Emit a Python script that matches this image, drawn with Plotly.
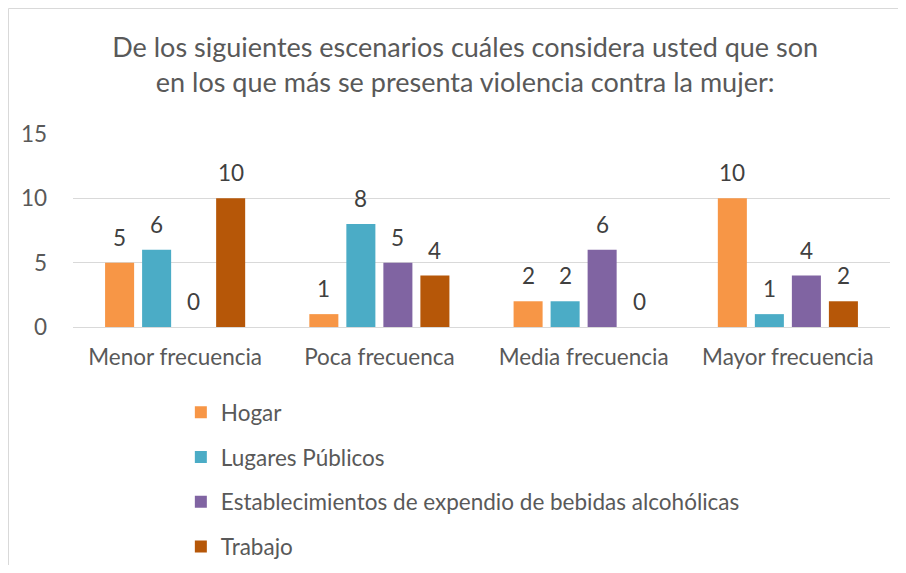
import plotly.graph_objects as go

categories = ["Menor frecuencia", "Poca frecuenca", "Media frecuencia", "Mayor frecuencia"]
series_names = ["Hogar", "Lugares Públicos",
                "Establecimientos de expendio de bebidas alcohólicas", "Trabajo"]
hogar = [5, 1, 2, 10]
lugares = [6, 8, 2, 1]
establecimientos = [0, 5, 6, 4]
trabajo = [10, 4, 0, 2]
colors = ["#F79646", "#4BACC6", "#8064A2", "#B65708"]
y_ticks = [0, 5, 10, 15]

FONT = "Lato"
TXT = "#595959"
# the page body adds an 8px margin, so the figure is sized to fit inside it
W, H = 890, 557
ML, MR, MT, MB = 65, 8, 126, 238
BARGAP = 0.275
plot_w = W - ML - MR
plot_h = H - MT - MB
slot_px = (1 - BARGAP) * plot_w / len(categories) / len(series_names)

fig = go.Figure()
annotations = []
all_vals = [hogar, lugares, establecimientos, trabajo]
for i, (name, vals, col) in enumerate(zip(series_names, all_vals, colors)):
    fig.add_trace(go.Bar(
        x=categories, y=vals, name=name, legendgroup=name,
        marker=dict(color=col, line=dict(width=0)),
    ))
    for cat, v in zip(categories, vals):
        annotations.append(dict(
            x=cat, y=v, xref="x", yref="y", text=str(v), showarrow=False,
            xshift=(i - 1.5) * slot_px, yshift=10, yanchor="bottom",
            font=dict(family=FONT, size=22.5, color="#404040"),
        ))

left_x = (0.5 - ML) / plot_w
right_x = (W + 20 - ML) / plot_w
top_y = (H - MB - 0.5) / plot_h
bottom_y = (H - MB - H - 20) / plot_h

fig.update_layout(
    width=W, height=H,
    paper_bgcolor="white", plot_bgcolor="white",
    margin=dict(l=ML, r=MR, t=MT, b=MB, autoexpand=False),
    barmode="group", bargap=BARGAP, bargroupgap=0.216,
    font=dict(family=FONT, color=TXT),
    title=dict(
        text="De los siguientes escenarios cuáles considera usted que son<br>en los que más se presenta violencia contra la mujer:",
        x=0.48, xanchor="center", xref="paper", y=1 - 49 / H, yanchor="middle",
        font=dict(family=FONT, size=27, color=TXT),
    ),
    showlegend=True,
    legend=dict(
        x=0.132, xanchor="left", yref="container", y=1 - 383 / H, yanchor="top",
        orientation="v", traceorder="grouped", tracegroupgap=12.5,
        font=dict(family=FONT, size=22.5, color=TXT),
        itemwidth=30, bgcolor="rgba(0,0,0,0)",
    ),
    xaxis=dict(
        showgrid=False, showline=False, ticks="",
        tickfont=dict(family=FONT, size=22.5, color=TXT),
        ticklabelstandoff=14,
    ),
    yaxis=dict(
        range=[0, 15], tickvals=y_ticks, showgrid=True, gridcolor="#D9D9D9", gridwidth=1.3,
        zeroline=True, zerolinecolor="#D9D9D9", zerolinewidth=1.3,
        showline=False, ticks="",
        tickfont=dict(family=FONT, size=22.5, color=TXT),
        ticklabelstandoff=25,
    ),
    annotations=annotations,
    shapes=[
        dict(type="line", xref="paper", yref="paper",
             x0=left_x, x1=right_x, y0=top_y, y1=top_y,
             line=dict(color="#D9D9D9", width=1), layer="below"),
        dict(type="line", xref="paper", yref="paper",
             x0=left_x, x1=left_x, y0=bottom_y, y1=top_y,
             line=dict(color="#D9D9D9", width=1), layer="below"),
    ],
)

fig.write_html("out.html")
